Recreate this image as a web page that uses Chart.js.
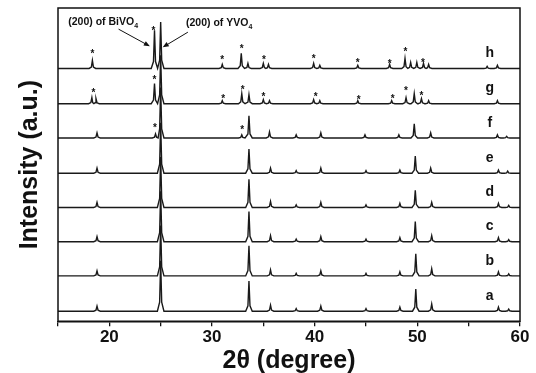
<!DOCTYPE html>
<html>
<head>
<meta charset="utf-8">
<script src="https://cdn.jsdelivr.net/npm/chart.js@4"></script>
<style>
  html, body { margin: 0; padding: 0; background: #fff; }
  #wrap { width: 536px; height: 373px; }
</style>
</head>
<body>
<div id="wrap"><canvas id="myChart"></canvas></div>
<script>
// sample names, bottom to top
const series = ["a", "b", "c", "d", "e", "f", "g", "h"];
// vertical stacking offset of each pattern (a.u.)
const offsets = [10, 45, 79, 113, 147, 182, 216, 251];
const xTicks = [20, 30, 40, 50, 60];

// peaks: [2theta, height]
const peaksA = [[18.8, 5], [25.0, 50], [33.6, 30], [35.7, 6], [38.2, 2.5], [40.6, 5], [45.0, 2.5], [48.3, 4], [49.85, 22], [51.4, 7], [57.9, 4], [58.9, 2]];
const peaksB = [[18.8, 5], [25.0, 50], [33.6, 30], [35.7, 6], [38.2, 2.5], [40.6, 5], [45.0, 2.5], [48.3, 4], [49.85, 22], [51.4, 7], [57.9, 4], [58.9, 2]];
const peaksC = [[18.8, 5], [25.0, 50], [33.6, 30], [35.7, 6], [38.2, 2.5], [40.6, 5], [45.0, 2.5], [48.3, 4], [49.8, 20], [51.4, 6], [57.9, 4], [58.9, 2]];
const peaksD = [[18.8, 5], [25.0, 50], [33.6, 28], [35.7, 6], [38.2, 2.5], [40.6, 5], [45.0, 2.5], [48.3, 4], [49.8, 17], [51.4, 5], [57.9, 4], [58.9, 2]];
const peaksE = [[18.8, 5], [25.0, 50], [33.6, 24], [35.7, 5], [38.2, 2.5], [40.6, 5], [45.0, 2.5], [48.3, 3], [49.8, 17], [51.3, 5], [57.9, 3], [58.8, 2]];
const peaksF = [[18.8, 5], [24.5, 4], [25.0, 50], [32.9, 3], [33.6, 22], [35.6, 6], [38.2, 3], [40.6, 5], [44.9, 3], [48.2, 3], [49.7, 14], [51.3, 5], [57.8, 3], [58.7, 1.5]];
const peaksG = [[18.3, 6], [18.7, 5], [24.4, 20], [25.0, 48], [31.0, 3], [32.9, 10], [33.6, 9], [35.0, 4], [35.6, 3], [39.9, 4], [40.5, 3], [44.2, 3], [47.5, 3], [48.9, 6], [49.7, 10], [50.4, 5], [51.1, 3], [57.8, 3]];
const peaksH = [[18.35, 8], [24.4, 38], [25.0, 46], [31.0, 4], [32.85, 15], [33.5, 5], [35.0, 5], [35.5, 4], [39.9, 5], [40.5, 3], [44.2, 3], [47.3, 4], [48.8, 10], [49.35, 6], [49.95, 6], [50.6, 5], [51.1, 4], [56.8, 2], [57.8, 3]];
const peaks = [peaksA, peaksB, peaksC, peaksD, peaksE, peaksF, peaksG, peaksH];

// BiVO4 reflections marked with "*": [2theta, height above baseline]
const starsF = [[24.45, 12], [32.95, 10]];
const starsG = [[18.45, 12], [24.4, 25], [31.1, 6], [33.0, 15], [35.0, 8], [40.1, 8], [44.3, 5], [47.6, 6], [48.9, 14], [50.4, 9]];
const starsH = [[18.35, 16], [24.3, 39], [31.0, 10], [32.9, 21], [35.05, 10], [39.9, 11], [44.2, 7], [47.3, 6], [48.85, 18], [50.55, 7]];
const stars = { 5: starsF, 6: starsG, 7: starsH };

// peak outline: narrow tip with a slightly wider foot
function toPoints(list, offset) {
  const pts = [{ x: 15, y: offset }];
  list.forEach(([pos, h], i) => {
    const prev = i > 0 ? list[i - 1][0] : 15;
    const next = i < list.length - 1 ? list[i + 1][0] : 60;
    const wl = Math.min(0.32, (pos - prev) / 2);
    const wr = Math.min(0.32, (next - pos) / 2);
    pts.push(
      { x: pos - wl, y: offset },
      { x: pos - Math.min(0.1, wl * 0.4), y: offset + h * 0.18 },
      { x: pos, y: offset + h },
      { x: pos + Math.min(0.1, wr * 0.4), y: offset + h * 0.18 },
      { x: pos + wr, y: offset }
    );
  });
  pts.push({ x: 60, y: offset });
  return pts;
}

const extras = {
  id: "extras",
  afterDatasetsDraw(chart) {
    const { ctx, chartArea, scales } = chart;
    const xs = scales.x, ys = scales.y;
    ctx.save();
    ctx.fillStyle = "#111";
    ctx.strokeStyle = "#111";

    // sample letters
    ctx.font = "bold 14px Arial, 'Liberation Sans'";
    ctx.textAlign = "center";
    ctx.textBaseline = "middle";
    series.forEach((s, i) => {
      ctx.fillText(s, xs.getPixelForValue(57.05), ys.getPixelForValue(offsets[i] + 15));
    });

    // stars
    ctx.font = "bold 10px Arial, 'Liberation Sans'";
    Object.keys(stars).forEach((k) => {
      stars[k].forEach(([pos, h]) => {
        ctx.fillText("*", xs.getPixelForValue(pos), ys.getPixelForValue(offsets[k] + h) + 2);
      });
    });

    // annotations
    const label = (txt, sub, xv, yv) => {
      ctx.font = "bold 10.5px Arial, 'Liberation Sans'";
      const w1 = ctx.measureText(txt).width;
      ctx.font = "bold 7px Arial, 'Liberation Sans'";
      const w2 = ctx.measureText(sub).width;
      const x0 = xs.getPixelForValue(xv) - (w1 + w2) / 2;
      const y0 = ys.getPixelForValue(yv);
      ctx.textAlign = "left";
      ctx.font = "bold 10.5px Arial, 'Liberation Sans'";
      ctx.fillText(txt, x0, y0);
      ctx.font = "bold 7px Arial, 'Liberation Sans'";
      ctx.fillText(sub, x0 + w1, y0 + 4);
    };
    label("(200) of BiVO", "4", 19.4, 297);
    label("(200) of YVO", "4", 30.7, 296);

    const arrow = (x1, y1, x2, y2) => {
      const p1 = [xs.getPixelForValue(x1), ys.getPixelForValue(y1)];
      const p2 = [xs.getPixelForValue(x2), ys.getPixelForValue(y2)];
      const a = Math.atan2(p2[1] - p1[1], p2[0] - p1[0]);
      ctx.lineWidth = 1;
      ctx.beginPath();
      ctx.moveTo(p1[0], p1[1]);
      ctx.lineTo(p2[0] - 4 * Math.cos(a), p2[1] - 4 * Math.sin(a));
      ctx.stroke();
      ctx.beginPath();
      ctx.moveTo(p2[0], p2[1]);
      ctx.lineTo(p2[0] - 6 * Math.cos(a) + 2.5 * Math.sin(a), p2[1] - 6 * Math.sin(a) - 2.5 * Math.cos(a));
      ctx.lineTo(p2[0] - 6 * Math.cos(a) - 2.5 * Math.sin(a), p2[1] - 6 * Math.sin(a) + 2.5 * Math.cos(a));
      ctx.closePath();
      ctx.fill();
    };
    arrow(20.9, 290, 23.95, 273);
    arrow(27.65, 287, 25.2, 272);

    // frame
    ctx.lineWidth = 1.5;
    ctx.strokeRect(chartArea.left, chartArea.top, chartArea.right - chartArea.left, chartArea.bottom - chartArea.top);
    ctx.restore();
  }
};

const ctx = document.getElementById("myChart");
const config = {
  type: "scatter",
  data: {
    datasets: series.map((s, i) => ({
      label: s,
      data: toPoints(peaks[i], offsets[i]),
      showLine: true,
      borderColor: "#1a1a1a",
      borderWidth: 1.4,
      pointRadius: 0,
      tension: 0,
    })),
  },
  options: {
    responsive: true,
    maintainAspectRatio: false,
    animation: false,
    layout: { padding: { left: 13, right: 16, top: 8, bottom: 0 } },
    plugins: {
      legend: { display: false },
      tooltip: { enabled: false },
    },
    scales: {
      x: {
        type: "linear",
        min: 15,
        max: 60,
        ticks: {
          stepSize: 5,
          color: "#111",
          padding: 3,
          font: { family: "Arial, 'Liberation Sans'", size: 17, weight: "bold", lineHeight: 1.0 },
          callback: (v) => (xTicks.includes(v) ? v : ""),
        },
        grid: { drawOnChartArea: false, drawTicks: true, tickLength: 5, color: "#111", lineWidth: 1.3 },
        border: { display: true, color: "#111", width: 1.5 },
        title: {
          display: true,
          text: "2θ (degree)",
          color: "#111",
          padding: { top: 0, bottom: 0 },
          font: { family: "Arial, 'Liberation Sans'", size: 25, weight: "bold", lineHeight: 0.95 },
        },
      },
      y: {
        min: 0,
        max: 311,
        ticks: { display: false },
        grid: { display: false, drawTicks: false },
        border: { display: false },
        title: {
          display: true,
          text: "Intensity (a.u.)",
          color: "#111",
          padding: { top: 5, bottom: 15 },
          font: { family: "Arial, 'Liberation Sans'", size: 25, weight: "bold", lineHeight: 1.0 },
        },
      },
    },
  },
  plugins: [extras],
};
myChart = new Chart(ctx, config);
</script>
</body>
</html>
